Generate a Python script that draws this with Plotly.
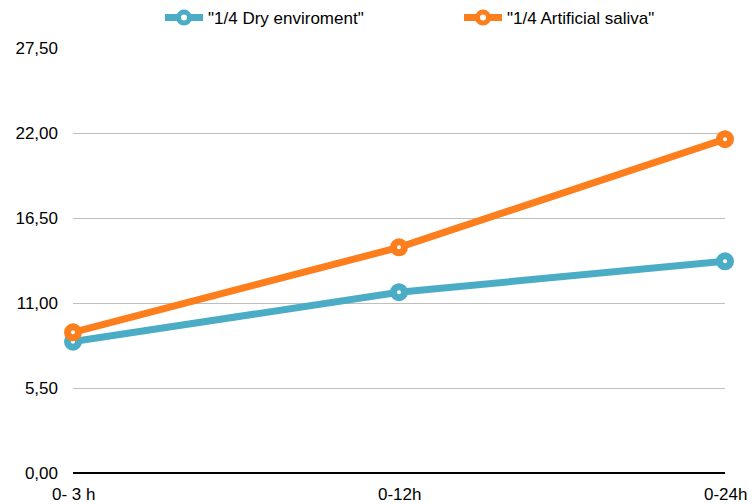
import plotly.graph_objects as go

categories = ["0- 3 h", "0-12h", "0-24h"]
dry_values = [8.5, 11.7, 13.7]
saliva_values = [9.1, 14.6, 21.6]
series_names = ['"1/4 Dry enviroment"', '"1/4 Artificial saliva"']
colors = ["#4BACC6", "#FD7E1C"]
y_ticks = [0, 5.5, 11, 16.5, 22, 27.5]
y_ticktext = ["0,00", "5,50", "11,00", "16,50", "22,00", "27,50"]

FONT = "Liberation Sans, Arial, Helvetica, sans-serif"
xs = list(range(len(categories)))
fig = go.Figure()
for name, vals, col in zip(series_names, [dry_values, saliva_values], colors):
    fig.add_trace(go.Scatter(
        x=xs, y=vals, name=name, mode="lines+markers",
        line=dict(color=col, width=7),
        marker=dict(size=11, color="white", line=dict(color=col, width=7)),
        cliponaxis=False,
    ))

# x tick labels as annotations
for i, c in enumerate(categories):
    fig.add_annotation(x=i, y=0, xref="x", yref="paper", text=c, showarrow=False,
                       xanchor="center", yanchor="middle", yshift=-21,
                       font=dict(size=17, color="black", family=FONT))

fig.update_layout(
    width=752, height=504,
    margin=dict(l=73, r=27, t=48, b=31, autoexpand=False),
    paper_bgcolor="white", plot_bgcolor="white",
    font=dict(family=FONT, size=17, color="black"),
    xaxis=dict(range=[0, 2], showticklabels=False, showgrid=False,
               zeroline=False, showline=False, fixedrange=True),
    yaxis=dict(range=[0, 27.5], tickvals=y_ticks, ticktext=y_ticktext,
               showgrid=True, gridcolor="#BFBFBF", gridwidth=1,
               zeroline=True, zerolinecolor="black", zerolinewidth=2,
               showline=False, ticks="", ticklabelstandoff=14,
               tickfont=dict(size=17, color="black")),
    legend=dict(orientation="h", x=160 / 752, xref="container", xanchor="left",
                y=1.0, yref="container", yanchor="top",
                entrywidth=246, font=dict(size=17, color="black"),
                itemwidth=38),
    showlegend=True,
)

fig.write_html("out.html", config={"displayModeBar": False},
               post_script="document.body.style.margin='0';")
